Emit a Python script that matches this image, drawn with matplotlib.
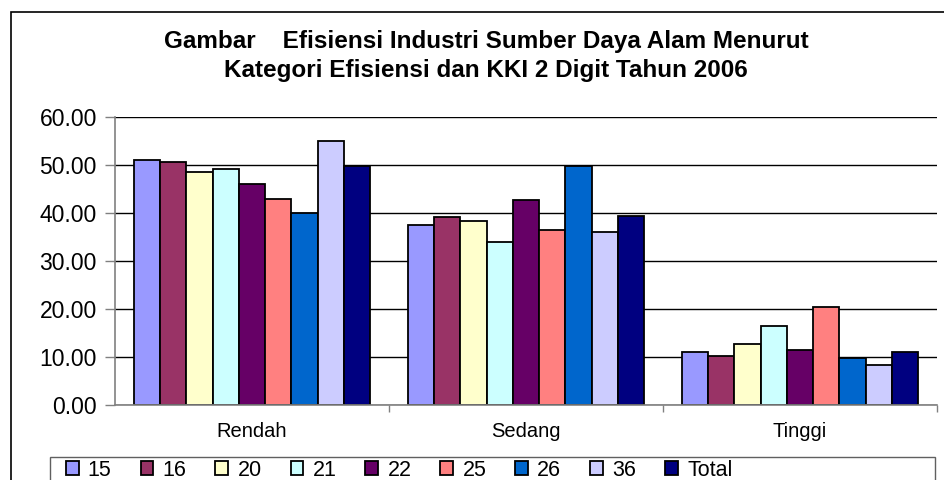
import matplotlib
matplotlib.use("Agg")
import matplotlib.pyplot as plt
from matplotlib.patches import Rectangle
from matplotlib.ticker import FormatStrFormatter, FixedLocator
import numpy as np

plt.rcParams['font.family'] = ['Liberation Sans', 'DejaVu Sans']

categories = ["Rendah", "Sedang", "Tinggi"]
series_names = ["15", "16", "20", "21", "22", "25", "26", "36", "Total"]
v15 = [51.0, 37.6, 11.0]
v16 = [50.6, 39.1, 10.2]
v20 = [48.5, 38.4, 12.7]
v21 = [49.2, 33.9, 16.4]
v22 = [46.1, 42.7, 11.4]
v25 = [43.0, 36.5, 20.5]
v26 = [40.1, 49.7, 9.8]
v36 = [55.0, 36.1, 8.4]
vTotal = [49.7, 39.4, 11.0]
series_values = [v15, v16, v20, v21, v22, v25, v26, v36, vTotal]
colors = ["#9999FF", "#993366", "#FFFFCC", "#CCFFFF", "#660066",
          "#FF8080", "#0066CC", "#CCCCFF", "#000080"]

fig = plt.figure(figsize=(9.44, 4.8), dpi=100)
W, H = 944, 480
ax = fig.add_axes([115 / W, (H - 405) / H, (937 - 115) / W, (405 - 117) / H])

x = np.arange(len(categories))
bw = 0.0957
n = len(series_names)
handles = []
for i, (name, vals, c) in enumerate(zip(series_names, series_values, colors)):
    off = (i - (n - 1) / 2) * bw
    b = ax.bar(x + off, vals, width=bw, color=c, edgecolor="black",
               linewidth=1.3, label=name, zorder=3)
    handles.append(b)

ax.set_xlim(-0.5, 2.5)
ax.set_ylim(0, 60)
ax.set_yticks(np.arange(0, 61, 10))
ax.yaxis.set_major_formatter(FormatStrFormatter("%.2f"))
ax.yaxis.grid(True, color="black", linewidth=1.0, zorder=0)
ax.set_axisbelow(True)
ax.set_xticks(x)
ax.set_xticklabels(categories, fontsize=14.5)
ax.tick_params(axis="x", length=0, pad=12)
ax.xaxis.set_minor_locator(FixedLocator([0.5, 1.5, 2.5]))
ax.tick_params(axis="x", which="minor", length=5, color="#808080", width=1)
ax.tick_params(axis="y", labelsize=16.5, length=7, color="#808080", width=1, pad=6)
for s in ["top", "right"]:
    ax.spines[s].set_visible(False)
for s in ["left", "bottom"]:
    ax.spines[s].set_color("#808080")
    ax.spines[s].set_linewidth(1.2)
    ax.spines[s].set_zorder(4)

fig.text(486 / W, 1 - 48 / H, "Gambar    Efisiensi Industri Sumber Daya Alam Menurut",
         ha="center", va="baseline", fontsize=17.5, fontweight="bold")
fig.text(486 / W, 1 - 77 / H, "Kategori Efisiensi dan KKI 2 Digit Tahun 2006",
         ha="center", va="baseline", fontsize=17.5, fontweight="bold")

# outer chart frame
fig.add_artist(Rectangle((11 / W, -0.1), 1.2, (H - 12) / H + 0.1,
                         transform=fig.transFigure, fill=False,
                         edgecolor="black", linewidth=1.2))
# legend frame
fig.add_artist(Rectangle((50 / W, -0.1), (935 - 50) / W, (H - 457) / H + 0.1,
                         transform=fig.transFigure, fill=False,
                         edgecolor="#606060", linewidth=1.0))

leg = fig.legend(handles=handles, labels=series_names, loc="center left",
                 bbox_to_anchor=(55 / W, 1 - 470 / H), ncol=9, frameon=False,
                 fontsize=15.5, handlelength=0.6, handleheight=0.6,
                 handletextpad=0.42, columnspacing=1.35, borderpad=0)

fig.savefig("out.png", dpi=100)
